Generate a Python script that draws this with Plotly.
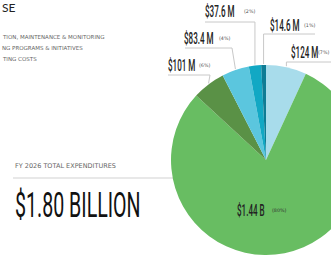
import math
import plotly.graph_objects as go

# ---- data ----
slice_names = ["Capital Projects", "Operations", "Programs", "Planning", "Debt", "Other"]
slice_values = [124, 1440, 101, 83.4, 37.6, 14.6]   # $ millions, clockwise from 12 o'clock
slice_amounts = ["$124 M", "$1.44 B", "$101 M", "$83.4 M", "$37.6 M", "$14.6 M"]
slice_pcts = ["(7%)", "(80%)", "(6%)", "(4%)", "(2%)", "(1%)"]
slice_colors = ["#A8DCEB", "#68BD62", "#5A9146", "#5BC6DE", "#12A8C4", "#0E7C95"]
legend_lines = ["TION, MAINTENANCE & MONITORING", "NG PROGRAMS & INITIATIVES", "TING COSTS"]
title_fragment = "SE"
total_caption = "FY 2026 TOTAL EXPENDITURES"
total_value = "$1.80 BILLION"

# ---- layout constants (pixels) ----
W, H = 370, 261
CX, CY, R = 266, 160, 95
COND = "Roboto"
SMALL = "DejaVu Sans, sans-serif"


def px(x):
    return x / W


def py(y):
    return 1 - y / H


fig = go.Figure(go.Pie(
    labels=slice_names, values=slice_values, sort=False, direction="clockwise",
    rotation=0, textinfo="none", hoverinfo="skip",
    marker=dict(colors=slice_colors, line=dict(width=0)),
    domain=dict(x=[px(CX - R), px(CX + R)], y=[py(CY + R), py(CY - R)]),
    showlegend=False,
))

annotations = []
shapes = []

# index -> (amount left x, pct left x, label center y, line y, line x0, line x1, elbow x)
outside = {
    4: (203, 242, 12, 22, 205, None, None),
    5: (268, 302, 25, 34, None, 315, None),
    0: (289, 316, 52, 62, None, 340, None),
    3: (182, 217, 38, 48, 185, 232, 232),
    2: (166, 197, 65, 75, 168, 210, 210),
}
total = sum(slice_values)
cum = 0
mids = []
for v in slice_values:
    mids.append((cum + v / 2) / total * 2 * math.pi)
    cum += v


def amount_label(i, x, y):
    annotations.append(dict(
        x=px(x), y=py(y), xref="paper", yref="paper", xanchor="left", yanchor="middle",
        showarrow=False, text=slice_amounts[i],
        font=dict(family=COND, size=13, color="#222", weight=500),
    ))


def pct_label(i, x, y, color="#555"):
    annotations.append(dict(
        x=px(x), y=py(y), xref="paper", yref="paper", xanchor="left", yanchor="middle",
        showarrow=False, text=slice_pcts[i],
        font=dict(family=SMALL, size=4.8, color=color),
    ))


for i, (lx, pxl, ly, lny, x0, x1, elbow) in outside.items():
    ex = CX + R * math.sin(mids[i])
    ey = CY - R * math.cos(mids[i])
    ex_v = ex if elbow is None else elbow
    a = x0 if x0 is not None else ex_v
    b = x1 if x1 is not None else ex_v
    shapes.append(dict(type="line", xref="paper", yref="paper",
                       x0=px(a), y0=py(lny), x1=px(b), y1=py(lny),
                       line=dict(color="#c8c8c8", width=1)))
    shapes.append(dict(type="line", xref="paper", yref="paper",
                       x0=px(ex_v), y0=py(lny), x1=px(ex), y1=py(ey - 1),
                       line=dict(color="#c8c8c8", width=1)))
    amount_label(i, lx, ly)
    pct_label(i, pxl, ly)

# inside label for the big slice
amount_label(1, 235, 210)
pct_label(1, 270, 210, color="#333")

# left side texts
annotations.append(dict(x=0, y=py(7), xref="paper", yref="paper", xanchor="left", yanchor="middle",
                        showarrow=False, text=title_fragment,
                        font=dict(family="Lato, sans-serif", size=12, color="#222")))
for k, t in enumerate(legend_lines):
    annotations.append(dict(x=0, y=py(37 + 11 * k), xref="paper", yref="paper",
                            xanchor="left", yanchor="middle", showarrow=False, text=t,
                            font=dict(family=SMALL, size=5.5, color="#666")))
annotations.append(dict(x=px(13), y=py(166), xref="paper", yref="paper", xanchor="left",
                        yanchor="middle", showarrow=False, text=total_caption,
                        font=dict(family=SMALL, size=6.5, color="#666")))
annotations.append(dict(x=px(13), y=py(205), xref="paper", yref="paper", xanchor="left",
                        yanchor="middle", showarrow=False, text=total_value,
                        font=dict(family=COND, size=28, color="#111", weight=400)))
shapes.append(dict(type="line", xref="paper", yref="paper", layer="below",
                   x0=px(13), y0=py(178), x1=px(180), y1=py(178),
                   line=dict(color="#e0e0e0", width=1.5)))

fig.update_layout(
    width=W, height=H, margin=dict(l=0, r=0, t=0, b=0),
    paper_bgcolor="white", plot_bgcolor="white",
    annotations=annotations, shapes=shapes,
)

condense_js = """
document.body.style.margin='0';
document.body.style.overflow='hidden';
document.querySelectorAll('text.annotation-text').forEach(function(t){
  var f = t.style.fontFamily || '';
  if (f.indexOf('Roboto') >= 0) {
    var big = parseFloat(t.style.fontSize) >= 20;
    t.style.transformBox = 'fill-box';
    t.style.transformOrigin = '0% 50%';
    t.style.transform = big ? 'scale(0.7,1.25)' : 'scale(0.62,1.2)';
  }
});
"""

fig.write_html("out.html", config={"displayModeBar": False}, post_script=condense_js)
